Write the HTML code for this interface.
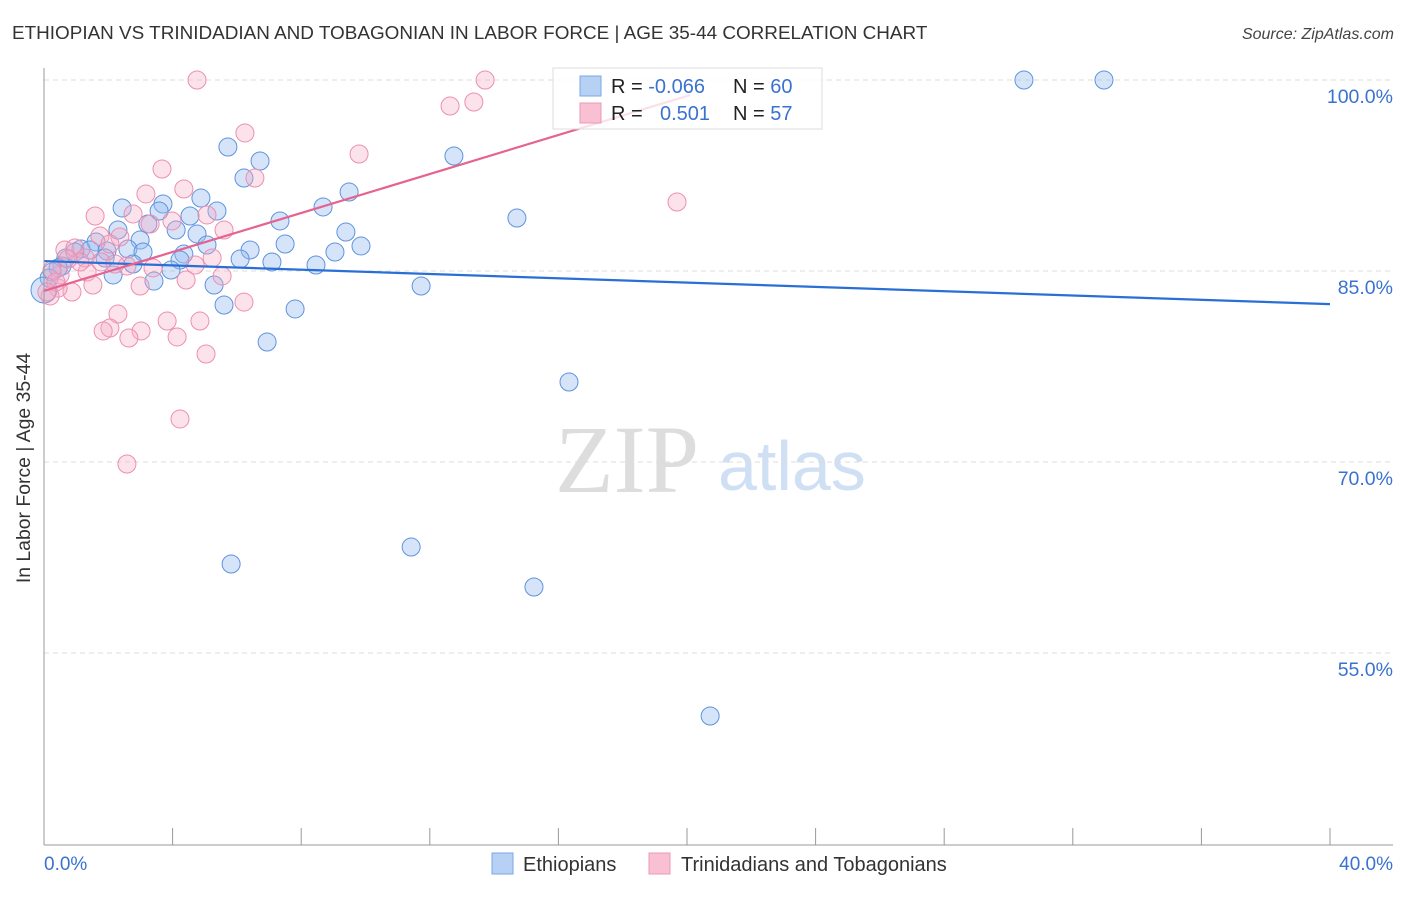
<!DOCTYPE html>
<html><head><meta charset="utf-8"><style>
body{margin:0;background:#fff;font-family:"Liberation Sans",sans-serif}
</style></head><body>
<svg width="1406" height="892" xmlns="http://www.w3.org/2000/svg" id="chart" font-family="Liberation Sans, sans-serif">
<text x="12" y="39" font-size="18.9" fill="#333">ETHIOPIAN VS TRINIDADIAN AND TOBAGONIAN IN LABOR FORCE | AGE 35-44 CORRELATION CHART</text>
<text x="1394" y="39" font-size="16" fill="#444" font-style="italic" text-anchor="end">Source: ZipAtlas.com</text>
<text x="555" y="492" font-size="96" fill="#ddd" font-family="Liberation Serif, serif">ZIP</text>
<text x="718" y="490" font-size="70" fill="#cfe0f4">atlas</text>
<g id="grid"></g><g id="pts"></g><g id="lines"></g>
<line x1="44" y1="68" x2="44" y2="845" stroke="#999"/>
<line x1="44" y1="845" x2="1393" y2="845" stroke="#999"/>
<text x="20" y="458" font-size="19.4" fill="#333" transform="rotate(-90 30 458)" text-anchor="middle">In Labor Force | Age 35-44</text>
<text x="44" y="870" font-size="19" fill="#3a72d0">0.0%</text>
<text x="1393" y="870" font-size="19" fill="#3a72d0" text-anchor="end">40.0%</text>
<g>
<rect x="553" y="68" width="269" height="61" fill="#fff" fill-opacity="0.8" stroke="#ddd"/>
<rect x="580" y="76" width="21" height="20" fill="#b7d1f5" stroke="#7aa7e6"/>
<rect x="580" y="103" width="21" height="20" fill="#f8c0d2" stroke="#ec9ab5"/>
<text x="611" y="93" font-size="20" fill="#222">R = <tspan fill="#3a72d0">-0.066</tspan></text>
<text x="733" y="93" font-size="20" fill="#222">N = <tspan fill="#3a72d0">60</tspan></text>
<text x="611" y="120" font-size="20" fill="#222">R = <tspan fill="#3a72d0" x="660">0.501</tspan></text>
<text x="733" y="120" font-size="20" fill="#222">N = <tspan fill="#3a72d0">57</tspan></text>
</g>
<g><rect x="492" y="853" width="21" height="21" fill="#b7d1f5" stroke="#7aa7e6"/><text x="523" y="871" font-size="20" fill="#333">Ethiopians</text></g>
<g><rect x="649" y="853" width="21" height="21" fill="#f8c0d2" stroke="#ec9ab5"/><text x="681" y="871" font-size="20" fill="#333">Trinidadians and Tobagonians</text></g>
</svg>
<script>
const yTicks=[100,85,70,55];
const yTickLabels=["100.0%","85.0%","70.0%","55.0%"];
const xTicks=[4,8,12,16,20,24,28,32,36,40];
const blueX=[30.48,32.97,5.72,6.72,6.22,12.75,9.49,4.88,2.43,3.70,3.58,5.38,4.54,8.68,7.34,14.71,3.23,4.11,2.30,4.76,9.39,2.99,7.50,5.07,9.86,1.62,1.15,1.96,2.61,4.35,3.08,6.41,9.05,6.10,7.09,8.46,4.23,2.77,1.90,0.68,0.56,3.95,2.15,3.42,5.29,11.73,5.60,7.81,6.94,16.33,11.42,5.82,15.24,20.72,0.25,0.44,0.16,0.0,1.43,0.96];
const blueY=[100,100,94.74,93.64,92.30,94.03,91.20,90.73,89.95,90.26,89.71,89.71,89.32,90.03,88.93,89.16,88.69,88.22,88.22,87.91,88.06,87.43,87.12,87.04,86.96,87.28,86.73,86.57,86.73,86.33,86.49,86.65,86.49,85.94,85.71,85.47,85.86,85.55,86.02,86.02,85.39,85.08,84.69,84.21,83.90,83.82,82.33,82.02,79.42,76.28,63.32,61.99,60.18,50.05,84.92,85.24,84.45,83.51,86.65,86.49];
const pinkX=[4.76,13.72,13.37,12.63,6.25,9.80,3.67,6.56,4.35,3.17,19.69,1.59,2.77,5.07,3.98,3.30,5.60,1.74,2.36,0.65,0.96,1.28,2.05,5.23,4.70,3.39,2.58,1.34,5.54,4.42,1.52,2.99,0.87,0.44,0.19,6.22,2.30,4.85,3.83,2.05,1.84,3.02,2.64,4.14,5.04,4.23,2.58,0.50,0.25,0.37,1.12,1.77,0.75,2.21,0.09];
const pinkY=[100,100,98.27,97.96,95.84,94.19,93.01,92.30,91.44,91.05,90.42,89.32,89.48,89.40,88.93,88.69,88.22,87.75,87.67,86.65,86.81,86.02,87.12,86.02,85.47,85.24,85.39,84.92,84.61,84.29,83.90,83.82,83.35,83.66,83.04,82.56,81.62,81.07,81.07,80.52,80.29,80.29,79.74,79.82,78.48,73.38,69.84,84.69,85.08,84.14,85.71,85.71,85.94,85.55,83.35];
const blueTrend=[85.78,82.4];
const pinkTrend=[83.43,98.82];
const pinkTrendEnd=20.1;
const NS="http://www.w3.org/2000/svg";
const X=v=>44+v*32.15, Y=v=>80+(100-v)*12.733;
function mk(t,a,p){const e=document.createElementNS(NS,t);for(const k in a)e.setAttribute(k,a[k]);document.getElementById(p).appendChild(e);return e;}
yTicks.forEach((v,i)=>{
 const l=mk('line',{x1:44,x2:1393,y1:Y(v),y2:Y(v),stroke:'#ddd','stroke-dasharray':'5,4'},'grid');
 
 
 const t=mk('text',{x:1393,y:Y(v)+23,'font-size':19.5,fill:'#3a72d0','text-anchor':'end'},'grid');
 t.textContent=yTickLabels[i];
 
 
});
xTicks.forEach(v=>{
 const l=mk('line',{x1:X(v),x2:X(v),y1:828,y2:845,stroke:'#999'},'grid');
 
 
});
blueX.forEach((v,i)=>{
 const c=mk('circle',{cx:X(v),cy:Y(blueY[i]),r:v===0?13:9,fill:'rgba(150,188,240,0.4)',stroke:'#5f93dd','stroke-width':1},'pts');
 
 
});
pinkX.forEach((v,i)=>{
 const c=mk('circle',{cx:X(v),cy:Y(pinkY[i]),r:9,fill:'rgba(246,172,198,0.35)',stroke:'#ec8fb0','stroke-width':1},'pts');
 
 
});
const bl=mk('line',{x1:X(0),y1:Y(blueTrend[0]),x2:X(40),y2:Y(blueTrend[1]),stroke:'#2a6fd6','stroke-width':2.2},'lines');


const pl=mk('line',{x1:X(0),y1:Y(pinkTrend[0]),x2:X(pinkTrendEnd),y2:Y(pinkTrend[1]),stroke:'#e5638f','stroke-width':2.2},'lines');


</script>
</body></html>
